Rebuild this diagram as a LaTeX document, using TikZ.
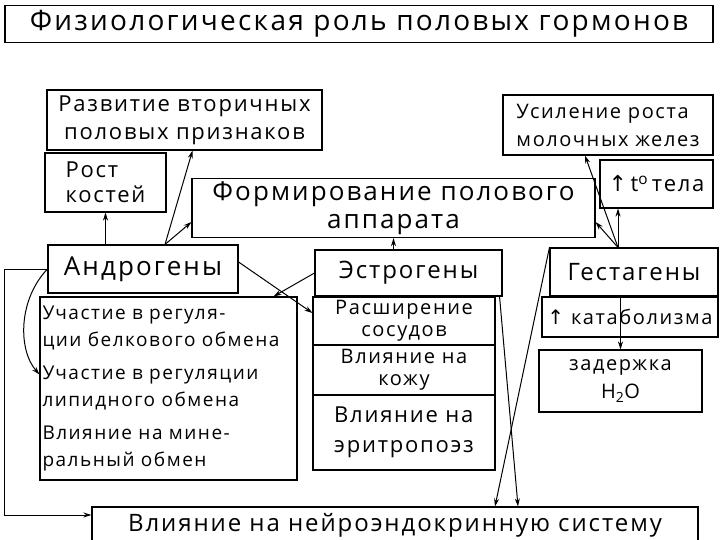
\documentclass[tikz,border=0pt]{standalone}
\usepackage{fontspec}
\setmainfont[LetterSpace=8]{Open Sans}
\newfontfamily\symf{DejaVu Sans}
\usetikzlibrary{arrows.meta, calc}
\newcommand{\fsz}[2]{\fontsize{#1}{#2}\selectfont}
\tikzset{
  every picture/.style={line width=1pt},
  box/.style={draw, line width=1.1pt, inner sep=3pt, align=center},
  arrow/.style={-{Stealth[length=8pt, width=5pt]}, line width=1pt},
}

\begin{document}
\begin{tikzpicture}[x=1pt, y=-1pt]
  \useasboundingbox (0,0) rectangle (720,540);
  \clip (0,0) rectangle (720,540);
  \node[box, minimum width=708pt, minimum height=37pt, font=\fsz{28}{32}] (title) at (359,24) {Физиологическая роль половых гормонов};
  \node[box, minimum width=275pt, minimum height=60pt, font=\fsz{22}{28}] (razv) at (184.5,120) {Развитие вторичных\\половых признаков};
  \node[box, minimum width=121pt, minimum height=59pt, align=left, font=\fsz{22}{25}] (rost) at (105.5,182.5) {Рост\\костей};
  \node[box, minimum width=403pt, minimum height=56pt, font=\fsz{26}{28}] (form) at (393.5,208) {Формирование полового\\аппарата};
  \node[box, minimum width=210pt, minimum height=60pt, align=left, font=\fsz{20}{28}] (usil) at (608,125) {Усиление роста\\молочных желез};
  \node[box, minimum width=113pt, minimum height=48pt, font=\fsz{22}{26}] (temp) at (656.5,184) {{\symf ↑}\,t\textsuperscript{o}\,тела};
  \node[box, minimum width=190pt, minimum height=48pt, font=\fsz{26}{30}] (andr) at (143,269) {Андрогены};
  \node[box, minimum width=257pt, minimum height=183pt, text width=252pt, inner sep=2pt, align=left, font=\fsz{19}{27}] (aeff) at (168.5,388.5) {Участие в регуля-\\ции белкового обмена\\[6pt]Участие в регуляции\\липидного обмена\\[6pt]Влияние на мине-\\ральный обмен};
  \node[box, minimum width=187pt, minimum height=46pt, font=\fsz{24}{28}] (estr) at (408.5,273) {Эстрогены};
  \node[box, minimum width=182pt, minimum height=48pt, font=\fsz{20}{22}] (rass) at (404,321) {Расширение\\сосудов};
  \node[box, minimum width=182pt, minimum height=50pt, font=\fsz{20}{22}] (kozh) at (404,370) {Влияние на\\кожу};
  \node[box, minimum width=182pt, minimum height=75pt, align=left, font=\fsz{22}{30}] (erit) at (404,432.5) {Влияние на\\эритропоэз};
  \node[box, minimum width=168pt, minimum height=48pt, font=\fsz{24}{28}] (gest) at (634,272) {Гестагены};
  \node[box, minimum width=176pt, minimum height=40pt, font=\fsz{20}{24}] (kata) at (630,317) {{\symf ↑} катаболизма};
  \node[box, minimum width=163pt, minimum height=62pt, font=\fsz{20}{28}] (zad) at (620.5,381) {задержка\\H\textsubscript{2}O};
  \node[box, minimum width=606pt, minimum height=36pt, font=\fsz{24}{28}] (neur) at (395,525) {Влияние на нейроэндокринную систему};
  \coordinate (aj) at ([xshift=22pt]andr.north);
  \coordinate (gj) at ([xshift=-16pt]gest.north);
  \draw[arrow] (rost.south |- andr.north) -- (rost.south);
  \draw[arrow] (aj) -- ([xshift=8pt]razv.south);
  \draw[arrow] (aj) -- ([yshift=-14pt]form.west);
  \draw[arrow] (form.south |- estr.north) -- (form.south);
  \draw[arrow] (gj) -- ([yshift=-14pt]form.east);
  \draw[arrow] (gj) -- ([xshift=-23pt]usil.south);
  \draw[arrow] (gj) -- (gj |- temp.south);
  \draw[arrow] (estr.west) -- ([xshift=-24pt]aeff.north east);
  \draw[arrow] ([yshift=7pt]andr.east) -- ([yshift=8pt]rass.west);
  \draw[arrow] (andr.west) .. controls (18,300) and (18,350) .. ([yshift=14pt]aeff.west);
  \draw[arrow] (andr.west) -- ++(-43,0) |- ([yshift=10pt]neur.west);
  \draw[arrow] ([xshift=-3pt]estr.south east) -- ([xshift=123pt]neur.north);
  \draw[arrow] (gest.north west) -- ([xshift=100pt]neur.north);
  \draw[arrow] (zad.north |- gest.south) -- (zad.north);
\end{tikzpicture}
\end{document}
